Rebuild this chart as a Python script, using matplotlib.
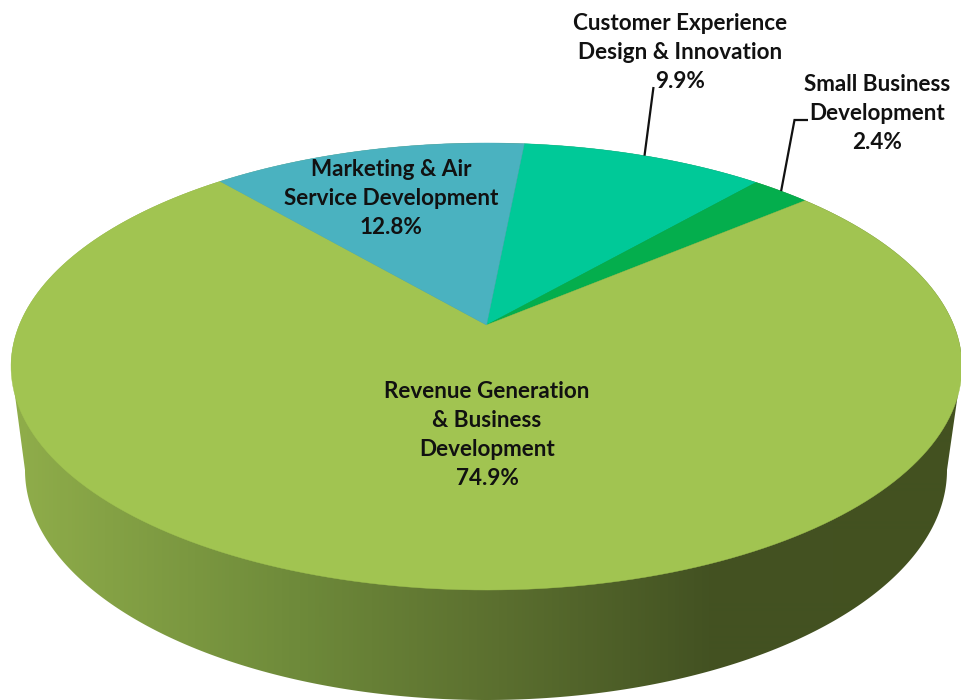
import matplotlib
matplotlib.use("Agg")
import matplotlib.pyplot as plt
from matplotlib.colors import LinearSegmentedColormap
from matplotlib.patches import Polygon
import numpy as np

names = ["Customer Experience\nDesign & Innovation", "Small Business\nDevelopment",
         "Revenue Generation\n& Business\nDevelopment", "Marketing & Air\nService Development"]
shares = [9.9, 2.4, 74.9, 12.8]
colors = ["#00c998", "#04ae4d", "#a1c451", "#4ab2c0"]
label_pos = [(680, 52.5), (877, 113.5), (487, 435), (391, 198.5)]

start_angle = 5.5  # degrees clockwise from the back of the pie

# the pie is tilted with some perspective, so the centre is not the ellipse centre
apex_x, apex_y = 486.5, 325
rx, ry, persp = 467.2, 215.8, 0.1857


def disk_to_screen(angle_deg):
    a = np.radians(angle_deg)
    u, v = np.sin(a), np.cos(a)
    w = 1 + persp * v
    return apex_x + rx * u / w, apex_y - ry * v / w


fig = plt.figure(figsize=(9.61, 7), dpi=100)
ax = fig.add_axes([0, 0, 1, 1])

# side wall: outline of the top rim and the lower ellipse, with a left to right fade
t = np.linspace(0, 360, 721)
top_x, top_y = disk_to_screen(t)
low_t = np.radians(np.linspace(180, 0, 361))
low_x = 486 + 461 * np.cos(low_t)
low_y = 470 + 230 * np.sin(low_t)
keep = top_y < 366.5
outline = np.column_stack([np.r_[low_x, top_x[keep]], np.r_[low_y, top_y[keep]]])
order = np.argsort(np.arctan2(outline[:, 1] - 420, outline[:, 0] - 486))
wall = Polygon(outline[order], closed=True, fc="none", ec="none")
ax.add_patch(wall)

fade = LinearSegmentedColormap.from_list("wall", [(0, "#91af4b"), (0.31, "#6e8a3a"), (0.52, "#5b6f2f"),
                                                  (0.74, "#435222"), (1, "#435120")])
img = ax.imshow(np.linspace(0, 1, 961).reshape(1, -1), cmap=fade, extent=[0, 961, 700, 0],
                aspect="auto", interpolation="bilinear")
img.set_clip_path(wall)

# top face
edges = start_angle + 3.6 * np.r_[0, np.cumsum(shares)]
for i, col in enumerate(colors):
    arc = np.linspace(edges[i], edges[i + 1], 200)
    x, y = disk_to_screen(arc)
    pts = np.column_stack([np.r_[apex_x, x], np.r_[apex_y, y]])
    ax.add_patch(Polygon(pts, closed=True, fc=col, ec=col, lw=0.3))

# leader lines start on the rim at the middle of the slice
mids = (edges[:-1] + edges[1:]) / 2
x0, y0 = disk_to_screen(mids[0])
ax.plot([x0, 653.5], [y0, 87], color="#111111", lw=1.6, solid_capstyle="butt")
x1, y1 = disk_to_screen(mids[1])
ax.plot([x1, 794.5, 808], [y1, 120, 120], color="#111111", lw=1.6, solid_capstyle="butt",
        solid_joinstyle="miter")

for name, share, (lx, ly) in zip(names, shares, label_pos):
    ax.text(lx, ly, f"{name}\n{share}%", ha="center", va="center", family="Lato", weight="bold",
            fontsize=16.2, color="#111111", linespacing=1.49)

ax.set_xlim(0, 961)
ax.set_ylim(700, 0)
ax.axis("off")
fig.savefig("out.png", dpi=100, facecolor="white")
